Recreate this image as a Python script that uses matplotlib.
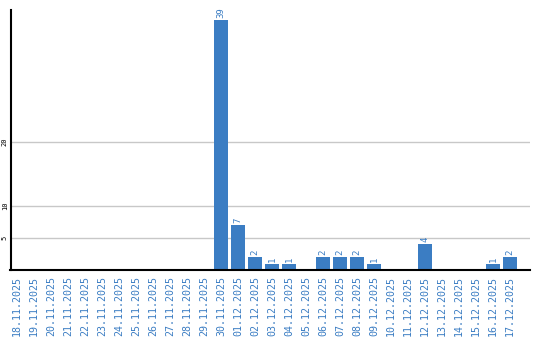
import matplotlib
matplotlib.use('Agg')
import matplotlib.pyplot as plt

dates = ['18.11.2025', '19.11.2025', '20.11.2025', '21.11.2025', '22.11.2025',
         '23.11.2025', '24.11.2025', '25.11.2025', '26.11.2025', '27.11.2025',
         '28.11.2025', '29.11.2025', '30.11.2025', '01.12.2025', '02.12.2025',
         '03.12.2025', '04.12.2025', '05.12.2025', '06.12.2025', '07.12.2025',
         '08.12.2025', '09.12.2025', '10.12.2025', '11.12.2025', '12.12.2025',
         '13.12.2025', '14.12.2025', '15.12.2025', '16.12.2025', '17.12.2025']
counts = [0, 0, 0, 0, 0, 0, 0, 0, 0, 0, 0, 0, 39, 7, 2, 1, 1, 0, 2, 2,
          2, 1, 0, 0, 4, 0, 0, 0, 1, 2]
yticks = [5, 10, 20]

blue = '#3b7dc3'

fig = plt.figure(figsize=(5.4, 3.4), dpi=100)
ax = fig.add_axes([10.5 / 540, 70 / 340, 519.5 / 540, 260 / 340])

x = list(range(len(dates)))
ax.bar(x, counts, width=0.82, color=blue, zorder=3)

# value labels above non-empty bars
for xi, c in zip(x, counts):
    if c > 0:
        ax.text(xi, c + 0.3, str(c), rotation=90, ha='center', va='bottom',
                color=blue, fontsize=6.5, family='DejaVu Sans Mono')

ax.set_xlim(-0.38, 30.18)
ax.set_ylim(0, 40.6)

ax.set_yticks(yticks)
ax.set_yticklabels([str(v) for v in yticks], rotation=90, va='center',
                   fontsize=5, family='DejaVu Sans Mono')
ax.yaxis.grid(True, color='#c8c8c8', linewidth=1, zorder=0)
ax.tick_params(axis='y', length=0, pad=2)

ax.set_xticks(x)
ax.set_xticklabels(dates, rotation=90, fontsize=7.2, color=blue,
                   family='DejaVu Sans Mono', va='top')
ax.tick_params(axis='x', length=0, pad=4)

for side in ['top', 'right']:
    ax.spines[side].set_visible(False)
for side in ['left', 'bottom']:
    ax.spines[side].set_linewidth(1.5)
    ax.spines[side].set_color('black')
    ax.spines[side].set_zorder(4)

fig.savefig('out.png', dpi=100)
